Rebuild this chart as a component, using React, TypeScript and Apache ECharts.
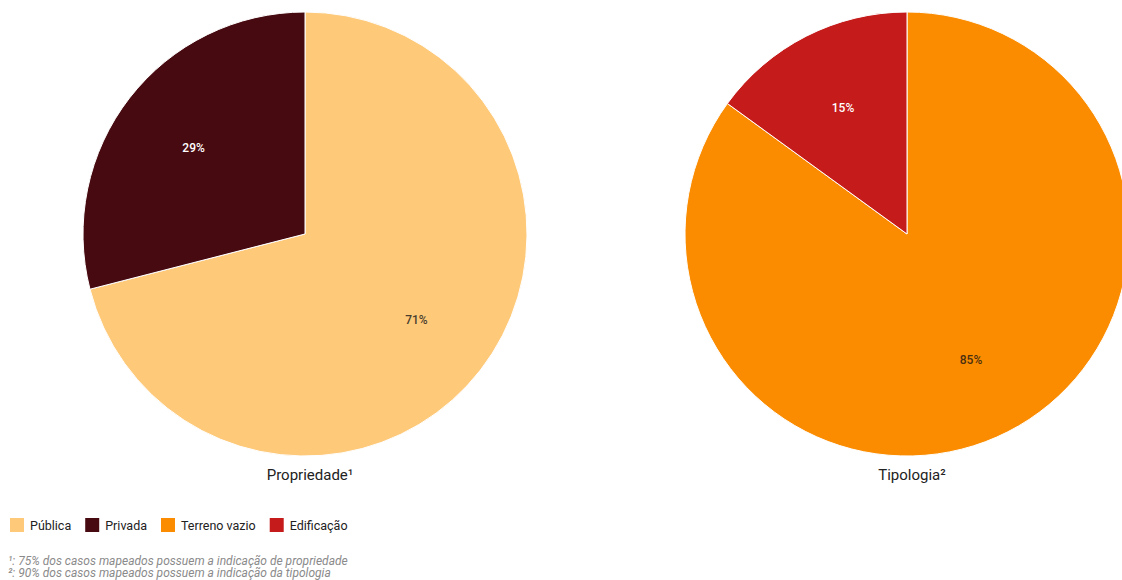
import React, { useEffect, useRef } from "react";
import * as echarts from "echarts";

const propCategories = ["Pública", "Privada"];
const propValues = [71, 29];
const tipoCategories = ["Terreno vazio", "Edificação"];
const tipoValues = [85, 15];
const colors: Record<string, string> = {
  "Pública": "#fec979",
  "Privada": "#470a10",
  "Terreno vazio": "#fb8c00",
  "Edificação": "#c51b1b",
};
const labelColors: Record<string, string> = {
  "Pública": "#4a3f2e",
  "Privada": "#ffffff",
  "Terreno vazio": "#4a2f10",
  "Edificação": "#ffffff",
};
const titles = ["Propriedade¹", "Tipologia²"];
const footnotes = [
  "¹: 75% dos casos mapeados possuem a indicação de propriedade",
  "²: 90% dos casos mapeados possuem a indicação da tipologia",
];

export default function App() {
  const ref = useRef<HTMLDivElement>(null);
  useEffect(() => {
    if (!ref.current) return;
    const chart = echarts.init(ref.current, undefined, { renderer: "svg" });
    const mk = (cats: string[], vals: number[]) =>
      cats.map((c, i) => ({ name: c, value: vals[i], itemStyle: { color: colors[c] } }));
    const mkLbl = (cats: string[], vals: number[]) =>
      cats.map((c, i) => ({
        name: c,
        value: vals[i],
        itemStyle: { color: "rgba(0,0,0,0)", borderWidth: 0 },
        label: { color: labelColors[c] },
      }));
    const centers = [
      [305, 234],
      [907, 234],
    ];
    const base = (center: number[], data: any[]) => ({
      type: "pie",
      center,
      radius: [0, 222],
      startAngle: 90,
      clockwise: true,
      data,
      label: { show: false },
      labelLine: { show: false },
      itemStyle: { borderColor: "#ffffff", borderWidth: 1 },
      emphasis: { disabled: true },
    });
    const lbl = (center: number[], data: any[]) => ({
      type: "pie",
      center,
      radius: [54, 222],
      startAngle: 90,
      clockwise: true,
      silent: true,
      z: 5,
      legendHoverLink: false,
      data,
      label: {
        show: true,
        position: "inside",
        formatter: "{d}%",
        fontFamily: "Roboto",
        fontSize: 12,
        fontWeight: 500,
      },
      labelLine: { show: false },
      emphasis: { disabled: true },
    });
    const allCats = [...propCategories, ...tipoCategories];
    chart.setOption({
      animation: false,
      backgroundColor: "#ffffff",
      title: titles.map((t, i) => ({
        text: t,
        left: centers[i][0],
        top: 462,
        padding: 5,
        textAlign: "center",
        textStyle: { fontFamily: "Roboto", fontSize: 15, fontWeight: "normal", color: "#222222" },
      })),
      legend: {
        left: 8,
        top: 516,
        padding: 0,
        itemWidth: 16,
        itemHeight: 16,
        itemGap: 12,
        icon: "rect",
        textStyle: { fontFamily: "Roboto", fontSize: 12.5, color: "#222222" },
        data: allCats.map((c) => ({ name: c, itemStyle: { color: colors[c] } })),
        selectedMode: false,
      },
      graphic: footnotes.map((f, i) => ({
        type: "text",
        left: 8,
        top: 554.5 + i * 12.5,
        style: {
          text: f,
          fontFamily: "Roboto",
          fontStyle: "italic",
          fontSize: 12,
          fill: "#8a8a8a",
        },
      })),
      series: [
        base(centers[0], mk(propCategories, propValues)),
        base(centers[1], mk(tipoCategories, tipoValues)),
        lbl(centers[0], mkLbl(propCategories, propValues)),
        lbl(centers[1], mkLbl(tipoCategories, tipoValues)),
      ],
    });
    return () => chart.dispose();
  }, []);
  return (
    <div
      ref={ref}
      style={{ position: "absolute", left: 0, top: 0, width: 1122, height: 580 }}
    />
  );
}
